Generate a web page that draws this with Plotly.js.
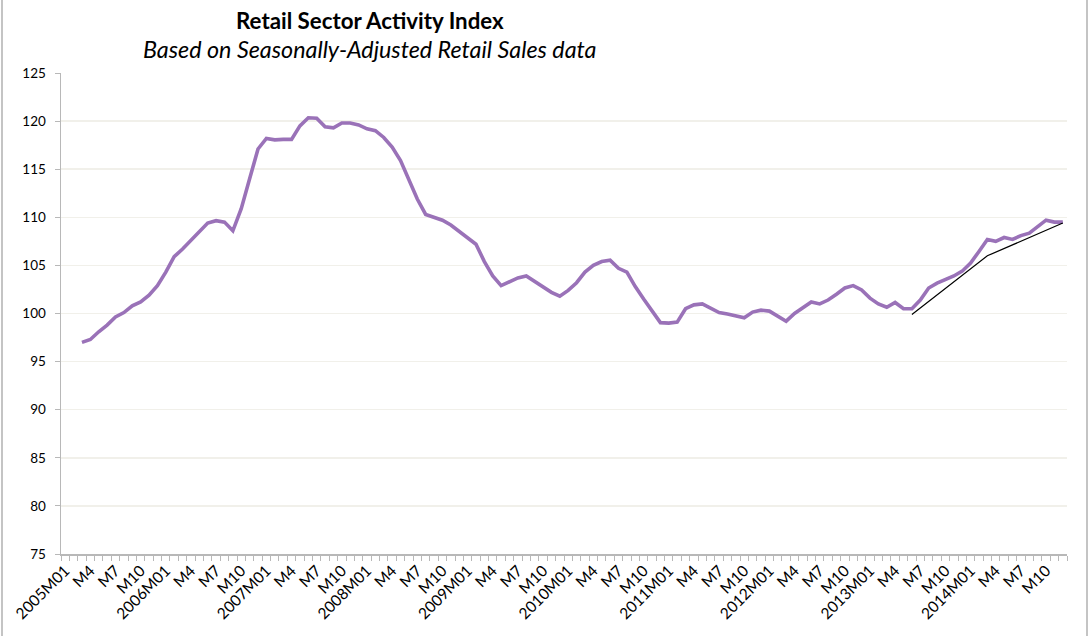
<!DOCTYPE html>
<html>
<head>
<meta charset="utf-8">
<script src="https://cdn.plot.ly/plotly-3.0.1.min.js"></script>
<style>
  html, body { margin: 0; padding: 0; background: #fff; }
  #chart { width: 1089px; height: 636px; }
</style>
</head>
<body>
<div id="chart"></div>
<script>
// Months 2005M01 .. 2014M12
const years = [2005, 2006, 2007, 2008, 2009, 2010, 2011, 2012, 2013, 2014];
const monthCodes = ['01','02','03','04','05','06','07','08','09','10','11','12'];
const categories = [];
years.forEach(y => monthCodes.forEach(m => categories.push(y + 'M' + m)));

// Displayed tick labels (every third month)
const tickLabels = [];
years.forEach(y => { tickLabels.push(y + 'M01', 'M4', 'M7', 'M10'); });

// Retail Sector Activity Index (first two months empty)
const indexValues = [
  null, null, 97.0, 97.3, 98.1, 98.8, 99.65, 100.1, 100.8, 101.2, 101.9, 102.9,
  104.3, 105.9, 106.7, 107.6, 108.5, 109.4, 109.65, 109.5, 108.6, 110.9, 114.0, 117.1,
  118.2, 118.05, 118.1, 118.1, 119.5, 120.35, 120.3, 119.4, 119.3, 119.8, 119.8, 119.6,
  119.2, 119.0, 118.3, 117.3, 115.9, 113.9, 111.9, 110.3, 110.0, 109.7, 109.2, 108.5,
  107.8, 107.2, 105.4, 103.9, 102.9, 103.3, 103.7, 103.9, 103.3, 102.7, 102.2, 101.8,
  102.4, 103.2, 104.3, 105.0, 105.4, 105.55, 104.7, 104.3, 102.8, 101.5, 100.2, 99.05,
  99.0, 99.1, 100.5, 100.9, 101.0, 100.6, 100.1, 99.95, 99.75, 99.55, 100.15, 100.35,
  100.25, 99.7, 99.2, 100.0, 100.55, 101.2, 101.0, 101.4, 102.0, 102.65, 102.9, 102.45,
  101.6, 101.0, 100.65, 101.15, 100.5, 100.5, 101.4, 102.65, 103.15, 103.5, 103.9, 104.4,
  105.25, 106.45, 107.7, 107.5, 107.9, 107.7, 108.1, 108.35, 109.05, 109.7, 109.5, 109.5
];

// Hand-drawn trend line
const trendMonths = ['2013M06', '2014M03', '2014M12'];
const trendValues = [99.9, 106.0, 109.4];

const titleText = '<b>Retail Sector Activity Index</b>';
const subtitleText = '<i>Based on Seasonally-Adjusted Retail Sales data</i>';

const tickText = categories.map((c, i) => (i % 3 === 0 ? tickLabels[i / 3] : ''));

const FONT = 'Lato, "Open Sans", sans-serif';

const traces = [
  {
    x: categories, y: indexValues, type: 'scatter', mode: 'lines',
    line: { color: '#9a72b8', width: 3.6 }, connectgaps: false, hoverinfo: 'skip'
  },
  {
    x: trendMonths, y: trendValues, type: 'scatter', mode: 'lines',
    line: { color: '#000000', width: 1.2 }, hoverinfo: 'skip'
  }
];

const L = 61, R = 22, T = 73, B = 82;
const pw = 1089 - L - R, ph = 636 - T - B;
const px = v => (v - L) / pw;
const py = v => (636 - B - v) / ph;

const layout = {
  width: 1089, height: 636,
  margin: { l: L, r: R, t: T, b: B, pad: 0 },
  paper_bgcolor: '#ffffff', plot_bgcolor: '#ffffff',
  showlegend: false,
  font: { family: FONT, size: 13, color: '#000' },
  xaxis: {
    type: 'category',
    categoryorder: 'array', categoryarray: categories,
    range: [-0.5, categories.length - 0.5],
    tickmode: 'array', tickvals: categories, ticktext: tickText,
    tickson: 'boundaries',
    ticks: 'outside', ticklen: 5, tickwidth: 1, tickcolor: '#b8b8b8',
    tickangle: -45,
    tickfont: { family: FONT, size: 15.5, color: '#000' },
    showgrid: false, zeroline: false,
    showline: true, linecolor: '#b8b8b8', linewidth: 1.5,
    fixedrange: true
  },
  yaxis: {
    range: [75, 125], tick0: 75, dtick: 5, tickmode: 'linear',
    ticks: 'outside', ticklen: 5, tickwidth: 1, tickcolor: '#b8b8b8',
    ticklabelstandoff: 6,
    tickfont: { family: FONT, size: 13.5, color: '#000' },
    showgrid: true, gridcolor: '#f1f0ea', gridwidth: 1.5,
    zeroline: false,
    showline: true, linecolor: '#b8b8b8', linewidth: 1.5,
    fixedrange: true
  },
  annotations: [
    { text: titleText, xref: 'paper', yref: 'paper', x: px(370), y: py(20),
      xanchor: 'center', yanchor: 'middle', showarrow: false,
      font: { family: FONT, size: 22.3, color: '#000' } },
    { text: subtitleText, xref: 'paper', yref: 'paper', x: px(370), y: py(49),
      xanchor: 'center', yanchor: 'middle', showarrow: false,
      font: { family: FONT, size: 23.3, color: '#000' } }
  ],
  shapes: [
    { type: 'line', xref: 'paper', yref: 'paper', x0: px(2), x1: px(2), y0: py(0), y1: py(636),
      line: { color: '#c4c4c4', width: 2 } },
    { type: 'line', xref: 'paper', yref: 'paper', x0: px(1087), x1: px(1087), y0: py(0), y1: py(636),
      line: { color: '#c4c4c4', width: 2 } }
  ]
};

Plotly.newPlot('chart', traces, layout, { displayModeBar: false, staticPlot: true });
</script>
</body>
</html>
